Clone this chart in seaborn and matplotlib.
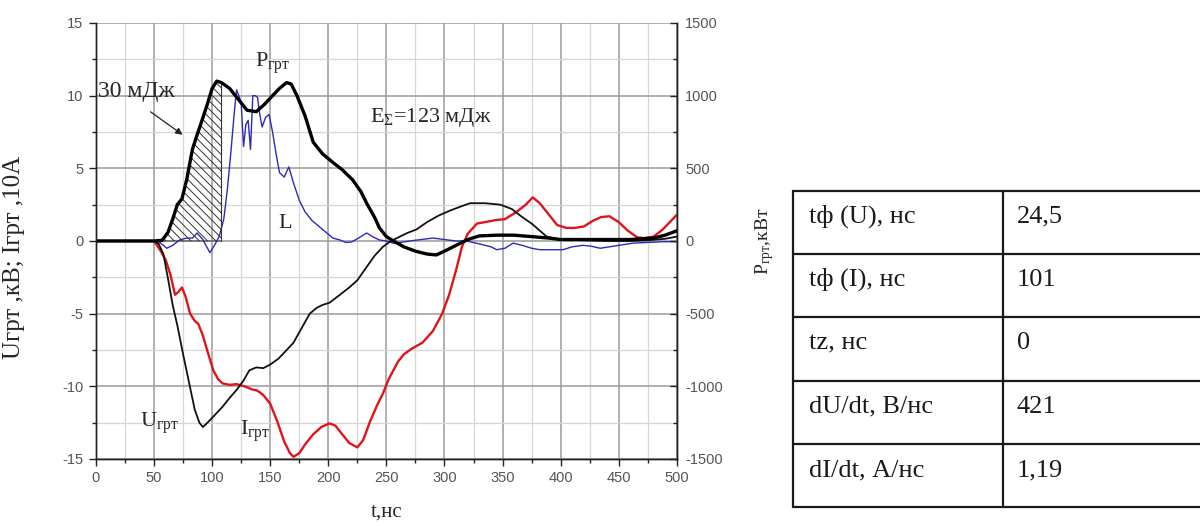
import numpy as np
import pandas as pd
import matplotlib
matplotlib.use("Agg")
import matplotlib.pyplot as plt
from matplotlib.ticker import MultipleLocator
import seaborn as sns

# ---- measured waveforms (t in ns) ----
t_u = [0, 50, 54, 58, 62, 66, 70, 75, 80, 85, 89, 92, 96, 102, 109, 115, 121, 127, 132, 138,
       144, 150, 157, 163, 170, 177, 184, 190, 195, 201, 210, 218, 225, 232, 240, 247, 253, 259,
       268, 276, 285, 295, 305, 315, 322, 335, 348, 358, 366, 375, 388, 400, 420, 440, 460, 475,
       490, 500]
u_grt = [0, 0, -0.2, -0.9, -2.6, -4.4, -5.8, -7.8, -9.7, -11.6, -12.5, -12.8, -12.5, -12.0, -11.4,
         -10.8, -10.25, -9.6, -8.9, -8.7, -8.75, -8.5, -8.1, -7.6, -7.0, -6.0, -5.0, -4.6, -4.4,
         -4.25, -3.7, -3.2, -2.7, -1.9, -1.0, -0.4, -0.05, 0.2, 0.55, 0.8, 1.3, 1.75, 2.1, 2.4, 2.6,
         2.6, 2.5, 2.2, 1.7, 1.2, 0.3, 0.1, 0.05, 0.0, 0.0, 0.05, 0.15, 0.3]

t_i = [0, 50, 55, 60, 64, 68, 71, 74, 77, 81, 85, 88, 92, 96, 101, 105, 109, 115, 121, 128, 134,
       139, 144, 150, 156, 162, 167, 170, 175, 180, 187, 194, 201, 206, 212, 218, 225, 230, 236,
       242, 247, 252, 256, 260, 265, 272, 281, 290, 298, 304, 310, 315, 320, 328, 335, 345, 352,
       362, 370, 376, 382, 390, 397, 405, 412, 420, 428, 435, 442, 450, 458, 466, 472, 480, 488,
       494, 500]
i_grt = [0, 0, -0.6, -1.3, -2.3, -3.7, -3.5, -3.2, -3.8, -5.0, -5.5, -5.7, -6.5, -7.6, -8.9, -9.5,
         -9.8, -9.9, -9.85, -10.0, -10.2, -10.3, -10.6, -11.2, -12.4, -13.8, -14.6, -14.85, -14.6,
         -14.0, -13.3, -12.8, -12.55, -12.7, -13.3, -13.9, -14.2, -13.7, -12.4, -11.3, -10.5, -9.5,
         -8.9, -8.3, -7.8, -7.4, -7.0, -6.2, -5.0, -3.7, -2.0, -0.4, 0.5, 1.2, 1.3, 1.45, 1.5, 2.0,
         2.5, 3.0, 2.6, 1.8, 1.1, 0.9, 0.9, 1.0, 1.4, 1.65, 1.7, 1.3, 0.7, 0.25, 0.2, 0.3, 0.8, 1.3,
         1.8]

t_l = [0, 50, 55, 61, 66, 72, 78, 83, 87, 92, 98, 102, 106, 110, 113, 116, 119, 121, 123, 125, 127,
       129, 131, 133, 135, 137, 139, 141, 143, 146, 149, 152, 155, 158, 162, 166, 170, 175, 180,
       186, 192, 198, 204, 210, 215, 220, 226, 233, 238, 244, 250, 256, 262, 270, 280, 290, 300,
       310, 319, 330, 340, 345, 352, 359, 367, 375, 382, 392, 402, 410, 419, 426, 434, 442, 450,
       462, 475, 488, 500]
l_val = [0, 0, -0.1, -0.5, -0.3, 0.07, 0.2, 0.2, 0.55, 0.1, -0.8, -0.3, 0.3, 1.5, 3.5, 6.0, 8.8,
         10.4, 10.0, 9.5, 6.5, 8.0, 8.3, 6.3, 10.0, 10.0, 9.9, 8.7, 7.85, 8.5, 8.7, 7.5, 6.0, 4.7,
         4.4, 5.1, 4.0, 2.8, 2.0, 1.4, 1.0, 0.6, 0.2, 0.07, -0.1, -0.07, 0.2, 0.55, 0.3, 0.07, 0.0,
         -0.15, -0.1, 0.0, 0.1, 0.2, 0.1, 0.0, 0.0, -0.2, -0.4, -0.6, -0.5, -0.15, -0.3, -0.5, -0.6,
         -0.6, -0.6, -0.4, -0.3, -0.35, -0.5, -0.4, -0.3, -0.15, -0.1, -0.05, -0.05]

t_p = [0, 50, 57, 62, 66, 70, 74, 78, 83, 87, 90, 95, 100, 104, 108, 115, 122, 130, 138, 145, 152,
       158, 164, 168, 173, 180, 187, 195, 204, 212, 221, 228, 233, 240, 244, 250, 256, 265, 275,
       285, 293, 300, 310, 320, 330, 345, 360, 375, 390, 400, 420, 440, 460, 480, 490, 500]
p_kw = [0, 0, 5, 60, 150, 250, 290, 420, 630, 730, 800, 920, 1050, 1100, 1090, 1050, 980, 900, 890,
        940, 1000, 1050, 1090, 1080, 1000, 860, 680, 600, 540, 490, 420, 340, 260, 160, 90, 30, 0,
        -40, -70, -90, -96, -70, -30, 10, 35, 40, 40, 30, 20, 10, 10, 10, 10, 20, 40, 70]

# energy region shaded under the power curve
hatch_t0, hatch_t1 = 50, 108

# parameter table
table_params = ["tф (U), нс", "tф (I), нс", "tz, нс", "dU/dt, В/нс", "dI/dt, А/нс"]
table_values = ["24,5", "101", "0", "421", "1,19"]

sns.set_style("white")
plt.rcParams["font.family"] = ["Liberation Serif", "DejaVu Serif"]
plt.rcParams["mathtext.fontset"] = "custom"
plt.rcParams["mathtext.rm"] = "Liberation Serif"
plt.rcParams["mathtext.it"] = "Liberation Serif:italic"
plt.rcParams["hatch.linewidth"] = 0.7
plt.rcParams["axes.unicode_minus"] = False

fig = plt.figure(figsize=(12, 5.26), dpi=100)
ax = fig.add_axes([0.08, 0.1274, 0.484, 0.8289])
ax2 = ax.twinx()

df_u = pd.DataFrame({"t": t_u, "v": u_grt})
df_i = pd.DataFrame({"t": t_i, "v": i_grt})
df_l = pd.DataFrame({"t": t_l, "v": l_val})
df_p = pd.DataFrame({"t": t_p, "v": p_kw})

sns.lineplot(data=df_l, x="t", y="v", ax=ax, color="#2b2bb8", lw=1.0, estimator=None, sort=False)
sns.lineplot(data=df_i, x="t", y="v", ax=ax, color="#e0141b", lw=1.7, estimator=None, sort=False)
sns.lineplot(data=df_u, x="t", y="v", ax=ax, color="#111111", lw=1.3, estimator=None, sort=False)

tp = np.array(t_p)
pp = np.array(p_kw)
mask = (tp >= hatch_t0) & (tp <= hatch_t1)
ax2.fill_between(tp[mask], 0, pp[mask], facecolor="none", edgecolor="#333333",
                 hatch="\\\\\\\\", linewidth=0.6)
ax2.vlines(hatch_t1, 0, pp[tp == hatch_t1][0], color="#333333", lw=0.8)
sns.lineplot(data=df_p, x="t", y="v", ax=ax2, color="#000000", lw=2.4, estimator=None, sort=False)

# axes limits and ticks
ax.set_xlim(0, 500)
ax.set_ylim(-15, 15)
ax2.set_ylim(-1500, 1500)
ax.xaxis.set_major_locator(MultipleLocator(50))
ax.xaxis.set_minor_locator(MultipleLocator(25))
ax.yaxis.set_major_locator(MultipleLocator(5))
ax.yaxis.set_minor_locator(MultipleLocator(2.5))
ax2.yaxis.set_major_locator(MultipleLocator(500))
ax2.yaxis.set_minor_locator(MultipleLocator(250))

ax.grid(which="major", color="#9a9a9a", lw=1.1)
ax.grid(which="minor", color="#d6d6d6", lw=0.9)
ax.set_axisbelow(True)

for a in (ax, ax2):
    a.spines["top"].set_visible(False)
    for s in ("left", "right", "bottom"):
        a.spines[s].set_color("#222222")
        a.spines[s].set_linewidth(1.0)

ax.tick_params(axis="both", which="major", direction="out", length=5, width=1, color="#222222",
               labelsize=10.5, labelcolor="#555555", pad=4)
ax.tick_params(axis="both", which="minor", direction="out", length=3, width=1, color="#222222")
ax.tick_params(axis="y", which="both", left=True)
ax.tick_params(axis="x", which="both", bottom=True)
ax2.tick_params(axis="y", which="major", direction="in", length=5, width=1, color="#222222",
                labelsize=10.5, labelcolor="#555555", pad=6)
ax2.tick_params(axis="y", which="minor", direction="in", length=3, width=1, color="#222222")
for lab in ax.get_xticklabels() + ax.get_yticklabels() + ax2.get_yticklabels():
    lab.set_fontfamily("Liberation Sans")

ax.set_xlabel("t,нс", fontsize=15)
ax.xaxis.set_label_coords(0.5, -0.1)
ax.set_ylabel("Uгрт ,кВ; Iгрт ,10A", fontsize=18)
ax.yaxis.set_label_coords(-0.122, 0.463)
ax2.set_ylabel(r"$\mathrm{P}_{\mathrm{грт}}$,кВт", fontsize=14, rotation=90)
ax2.yaxis.set_label_coords(1.131, 0.5)

# curve labels and annotations
ax.text(2, 10.3, "30 мДж", fontsize=17, ha="left", va="center")
ax.annotate("", xy=(76.5, 7.2), xytext=(45, 9.0),
            arrowprops=dict(arrowstyle="-|>", color="#222222", lw=0.9, mutation_scale=10))
ax.text(137, 12.0, r"$\mathrm{P}_{\mathrm{грт}}$", fontsize=16, ha="left", va="baseline")
ax.text(236, 8.2, r"$\mathrm{E}_{\Sigma}$=123 мДж", fontsize=16, ha="left", va="baseline")
ax.text(157, 0.9, "L", fontsize=16, ha="left", va="baseline")
ax.text(38, -12.8, r"$\mathrm{U}_{\mathrm{грт}}$", fontsize=16, ha="left", va="baseline")
ax.text(124, -13.35, r"$\mathrm{I}_{\mathrm{грт}}$", fontsize=16, ha="left", va="baseline")

# parameter table
tax = fig.add_axes([793 / 1200, 1 - 507.3 / 526, 417 / 1200, (507.3 - 190.7) / 526])
n = len(table_params)
tax.set_xlim(0, 1)
tax.set_ylim(0, n)
tax.axis("off")
col_split = (1002.7 - 793) / 417
for k in range(n + 1):
    tax.plot([0, 1], [k, k], color="#1a1a1a", lw=1.6, clip_on=False)
tax.plot([0, 0], [0, n], color="#1a1a1a", lw=1.6, clip_on=False)
tax.plot([col_split, col_split], [0, n], color="#1a1a1a", lw=1.6, clip_on=False)
for k, (name, val) in enumerate(zip(table_params, table_values)):
    y_base = n - k - 0.505
    tax.text(0.039, y_base, name, fontsize=19, ha="left", va="baseline", color="#1a1a1a")
    tax.text(0.537, y_base, val, fontsize=19, ha="left", va="baseline", color="#1a1a1a")

fig.savefig("out.png", dpi=100)
